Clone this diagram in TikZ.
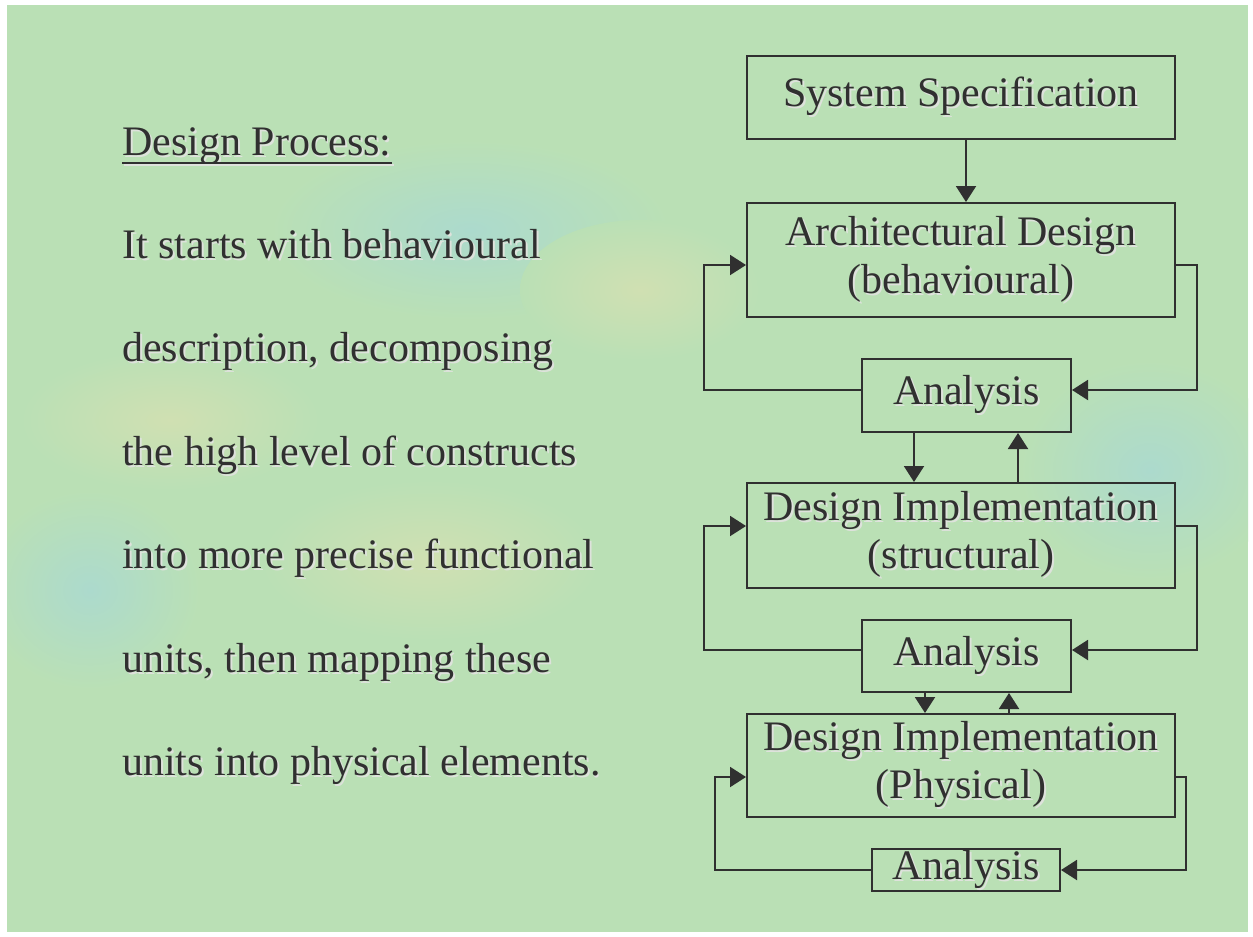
\documentclass[tikz,border=0pt]{standalone}
\usepackage{fontspec}
\setmainfont{Liberation Serif}
\usepackage{xcolor}
\usetikzlibrary{shapes,arrows.meta,positioning,calc}

\definecolor{inkc}{RGB}{48,48,48}
\definecolor{shadc}{RGB}{222,226,220}
\definecolor{bgc}{RGB}{186,224,181}
\definecolor{bluepatch}{RGB}{172,218,205}
\definecolor{yellowpatch}{RGB}{208,224,178}

% text with a light drop shadow
\newcommand{\shtxt}[1]{\leavevmode\rlap{\kern2pt\raisebox{-2pt}{\textcolor{shadc}{#1}}}#1}

\begin{document}
\begin{tikzpicture}[x=1pt, y=-1pt]
  \tikzstyle{stage}=[rectangle, draw=inkc, line width=2pt, minimum width=428pt, inner sep=0pt, align=center, text=inkc, font=\fontsize{42}{48}\selectfont]
  \tikzstyle{check}=[stage, minimum width=209pt]
  \tikzstyle{para}=[anchor=base west, inner sep=0pt, text=inkc, font=\fontsize{42}{48}\selectfont]
  \tikzstyle{flow}=[-{Triangle[length=16pt,width=20pt]}, draw=inkc, line width=2pt]

  % background
  \useasboundingbox (0,0) rectangle (1253,937);
  \fill[white] (0,0) rectangle (1253,937);
  \begin{scope}
    \clip (7,5) rectangle (1248,932);
    \fill[bgc] (7,5) rectangle (1248,932);
    \shade[inner color=bluepatch, outer color=bgc] (470,230) ellipse (200 and 90);
    \shade[inner color=bluepatch, outer color=bgc] (1150,470) ellipse (130 and 110);
    \shade[inner color=bluepatch, outer color=bgc] (90,590) ellipse (110 and 100);
    \shade[inner color=yellowpatch, outer color=bgc] (640,290) ellipse (120 and 70);
    \shade[inner color=yellowpatch, outer color=bgc] (430,560) ellipse (170 and 80);
    \shade[inner color=yellowpatch, outer color=bgc] (170,420) ellipse (150 and 70);
  \end{scope}

  % left text
  \node[para] (head) at (122,155) {\shtxt{Design Process:}};
  \draw[shadc, line width=2.5pt] ([xshift=2pt,yshift=-10pt]head.base west) -- ([xshift=2pt,yshift=-10pt]head.base east);
  \draw[inkc, line width=2.5pt] ([yshift=-8pt]head.base west) -- ([yshift=-8pt]head.base east);
  \node[para] (l1) at (122,258) {\shtxt{It starts with behavioural}};
  \node[para] (l2) at (122,361) {\shtxt{description, decomposing}};
  \node[para] (l3) at (122,465) {\shtxt{the high level of constructs}};
  \node[para] (l4) at (122,568) {\shtxt{into more precise functional}};
  \node[para] (l5) at (122,672) {\shtxt{units, then mapping these}};
  \node[para] (l6) at (122,775) {\shtxt{units into physical elements.}};

  % design flow
  \node[stage, minimum height=83pt] (spec) at (961,97.5) {\shtxt{System Specification}};
  \node[stage, minimum height=114pt] (arch) at (961,260) {\shtxt{Architectural Design}\\\shtxt{(behavioural)}};
  \node[check, minimum height=73pt] (ana1) at (966.5,395.5) {\shtxt{Analysis}};
  \node[stage, minimum height=105pt] (impl1) at (961,535.5) {\shtxt{Design Implementation}\\\shtxt{(structural)}};
  \node[check, minimum height=72pt] (ana2) at (966.5,656) {\shtxt{Analysis}};
  \node[stage, minimum height=103pt] (impl2) at (961,765.5) {\shtxt{Design Implementation}\\\shtxt{(Physical)}};
  \node[check, minimum width=188pt, minimum height=42pt] (ana3) at (966,870) {\shtxt{Analysis}};

  % specification into architecture
  \draw[flow] ([xshift=5pt]spec.south) -- ([xshift=5pt]arch.north);
  % architecture loop
  \draw[flow] ([yshift=5.5pt]ana1.west) -- ++(-157,0) |- ([yshift=-5pt]arch.west);
  \draw[flow] ([yshift=-5pt]arch.east) -- ++(21,0) |- ([yshift=5.5pt]ana1.east);
  \draw[flow] ([xshift=-52.5pt]ana1.south) -- ([xshift=-47pt]impl1.north);
  \draw[flow] ([xshift=57pt]impl1.north) -- ([xshift=51.5pt]ana1.south);
  % structural loop
  \draw[flow] ([yshift=6pt]ana2.west) -- ++(-157,0) |- ([yshift=9.5pt]impl1.west);
  \draw[flow] ([yshift=9.5pt]impl1.east) -- ++(21,0) |- ([yshift=6pt]ana2.east);
  \draw[flow] ([xshift=-41.5pt]ana2.south) -- ([xshift=-36pt]impl2.north);
  \draw[flow] ([xshift=48pt]impl2.north) -- ([xshift=42.5pt]ana2.south);
  % physical loop
  \draw[flow] (ana3.west) -- ++(-156,0) |- ([yshift=-11.5pt]impl2.west);
  \draw[flow] ([yshift=-11.5pt]impl2.east) -- ++(10,0) |- (ana3.east);
\end{tikzpicture}
\end{document}
